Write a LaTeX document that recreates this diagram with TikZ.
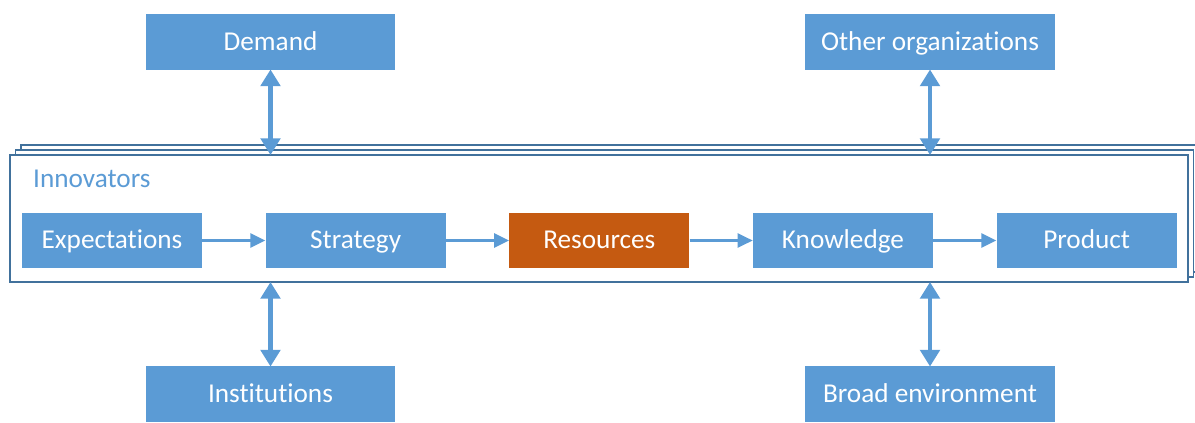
\documentclass[tikz,border=0pt]{standalone}
\usepackage{fontspec}
\setmainfont{Carlito}[Ligatures=NoCommon]
\usetikzlibrary{positioning,arrows.meta}
\definecolor{boxblue}{HTML}{5B9BD5}
\definecolor{boxorange}{HTML}{C55A11}
\definecolor{frameblue}{HTML}{41719C}
\tikzset{
  >={Triangle[length=8.5pt,width=8pt]},
}
\tikzstyle{every node}=[font=\fontsize{15.5}{18}\selectfont]
\tikzstyle{block}=[fill=boxblue,text=white,inner sep=0pt,text height=2.35ex,text depth=0.4ex,minimum width=3.6cm,minimum height=1.1cm]
\tikzstyle{outer}=[block,minimum width=5cm,minimum height=1.12cm]
\tikzstyle{frame}=[draw=frameblue,line width=1pt,fill=white,inner sep=0pt,minimum width=23.56cm,minimum height=2.54cm]
\tikzstyle{flow}=[->,boxblue,line width=1.4pt]
\tikzstyle{link}=[{Triangle[length=9.5pt,width=11pt]}-{Triangle[length=9.5pt,width=11pt]},boxblue,line width=2.8pt,shorten <=-0.5pt,shorten >=-0.5pt]

\begin{document}
\begin{tikzpicture}[x=0.02cm,y=-0.02cm]
    \useasboundingbox (0,0) rectangle (1195,422);
    % stacked innovators frames
    \node[frame] (back) at (610,208.5) {};
    \node[frame] (mid) at (604.5,213.5) {};
    \node[frame] (innov) at (599,218.5) {};
    \node[text=boxblue,anchor=base west] (innovlbl) at (27,188) {Innovators};
    % chain inside the frame
    \node[block] (expect) at (112,240.5) {Expectations};
    \node[block,right=1.26cm of expect] (strategy) {Strategy};
    \node[block,right=1.26cm of strategy,fill=boxorange] (resources) {Resources};
    \node[block,right=1.26cm of resources] (knowledge) {Knowledge};
    \node[block,right=1.26cm of knowledge] (product) {Product};
    \draw[flow] (expect) -- (strategy);
    \draw[flow] (strategy) -- (resources);
    \draw[flow] (resources) -- (knowledge);
    \draw[flow] (knowledge) -- (product);
    % surroundings
    \node[outer] (demand) at (270.5,42) {Demand};
    \node[outer] (others) at (930,42) {Other organizations};
    \node[outer] (institutions) at (270.5,394) {Institutions};
    \node[outer] (environment) at (930,394) {Broad environment};
    \draw[link] (demand) -- (demand |- innov.north);
    \draw[link] (others) -- (others |- innov.north);
    \draw[link] (institutions) -- (institutions |- innov.south);
    \draw[link] (environment) -- (environment |- innov.south);
\end{tikzpicture}
\end{document}
